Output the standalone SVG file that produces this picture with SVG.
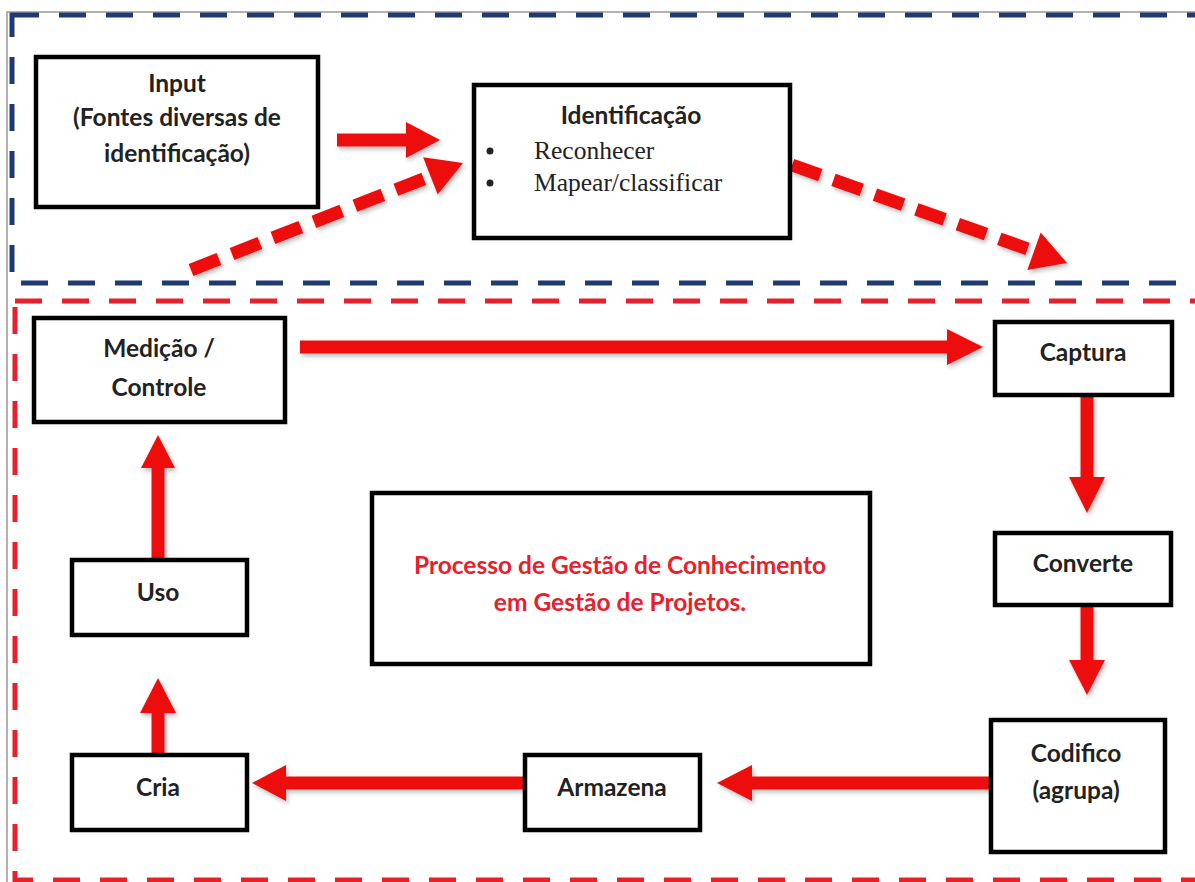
<svg xmlns="http://www.w3.org/2000/svg" width="1195" height="882" viewBox="0 0 1195 882">
<style>
.box{fill:#fff;stroke:#000;stroke-width:4.5}
.lbl{font-family:Lato,"Open Sans","Liberation Sans",sans-serif;font-weight:bold;font-size:24.5px;fill:#222;text-anchor:middle}
.ser{font-family:"Liberation Serif",serif;font-size:25.5px;fill:#222}
.shaft{stroke:#ee1111;stroke-width:13;fill:none}
.dash{stroke:#ee1111;stroke-width:13;fill:none;stroke-dasharray:30 14}
.head{fill:#ee1111}
</style>
<defs>
<filter id="sh" x="-20%" y="-20%" width="140%" height="140%">
<feDropShadow dx="2" dy="3" stdDeviation="2" flood-color="#000" flood-opacity="0.25"/>
</filter>
</defs>
<rect width="1195" height="882" fill="#fff"/>
<path d="M7 882 V12 H1195" fill="none" stroke="#999" stroke-width="1.5"/>
<g id="frames">
<rect x="12" y="15" width="1200" height="268" fill="none" stroke="#1f3a6e" stroke-width="5" stroke-dasharray="27 20"/>
<rect x="15" y="301" width="1200" height="579" fill="none" stroke="#e8202a" stroke-width="5" stroke-dasharray="27 20"/>
</g>
<g id="connectors" filter="url(#sh)">
<line class="shaft" x1="337" y1="140" x2="408" y2="140"/>
<polygon class="head" points="406,122 440,140 406,158"/>
<line class="dash" x1="191" y1="270" x2="431" y2="176"/>
<polygon class="head" points="463,163 437.7,194.4 423.1,157.2"/>
<line class="dash" x1="792" y1="165" x2="1035" y2="251.5"/>
<polygon class="head" points="1067,263 1027.3,270 1040.7,232.4"/>
<line class="shaft" x1="300" y1="347" x2="949" y2="347"/>
<polygon class="head" points="947,329 983,347 947,365"/>
<line class="shaft" x1="1087" y1="395" x2="1087" y2="479"/>
<polygon class="head" points="1069,477 1087,513 1105,477"/>
<line class="shaft" x1="1087" y1="605" x2="1087" y2="662"/>
<polygon class="head" points="1069,660 1087,695 1105,660"/>
<line class="shaft" x1="990" y1="783" x2="750" y2="783"/>
<polygon class="head" points="752,765 717,783 752,801"/>
<line class="shaft" x1="525" y1="783" x2="284" y2="783"/>
<polygon class="head" points="286,765 252,783 286,801"/>
<line class="shaft" x1="158" y1="755" x2="158" y2="711"/>
<polygon class="head" points="140,713 158,678 176,713"/>
<line class="shaft" x1="158" y1="560" x2="158" y2="466"/>
<polygon class="head" points="141,468 158,435 175,468"/>
</g>
<g id="input">
<rect class="box" x="36" y="57" width="282" height="150"/>
<text class="lbl" x="177" y="92">Input</text>
<text class="lbl" x="177" y="126">(Fontes diversas de</text>
<text class="lbl" x="177" y="162">identificação)</text>
</g>
<g id="identificacao">
<rect class="box" x="474" y="85" width="316" height="153"/>
<text class="lbl" x="631" y="124">Identificação</text>
<circle cx="490" cy="151" r="3.5" fill="#222"/>
<circle cx="490" cy="183" r="3.5" fill="#222"/>
<text class="ser" x="534" y="159">Reconhecer</text>
<text class="ser" x="534" y="191">Mapear/classificar</text>
</g>
<g id="medicao">
<rect class="box" x="34" y="318" width="251" height="104"/>
<text class="lbl" x="159" y="357">Medição /</text>
<text class="lbl" x="159" y="396">Controle</text>
</g>
<g id="captura">
<rect class="box" x="995" y="322" width="177" height="73"/>
<text class="lbl" x="1083" y="361">Captura</text>
</g>
<g id="converte">
<rect class="box" x="995" y="533" width="176" height="72"/>
<text class="lbl" x="1083" y="572">Converte</text>
</g>
<g id="codifico">
<rect class="box" x="991" y="720" width="174" height="132"/>
<text class="lbl" x="1076" y="762">Codifico</text>
<text class="lbl" x="1076" y="799">(agrupa)</text>
</g>
<g id="armazena">
<rect class="box" x="525" y="755" width="175" height="75"/>
<text class="lbl" x="612" y="796">Armazena</text>
</g>
<g id="cria">
<rect class="box" x="72" y="755" width="175" height="75"/>
<text class="lbl" x="158" y="796">Cria</text>
</g>
<g id="uso">
<rect class="box" x="72" y="560" width="175" height="75"/>
<text class="lbl" x="158" y="601">Uso</text>
</g>
<g id="processo">
<rect class="box" x="372" y="493" width="498" height="171"/>
<text class="lbl" x="620" y="574" style="fill:#e8202a;font-size:24.5px">Processo de Gestão de Conhecimento</text>
<text class="lbl" x="620" y="611" style="fill:#e8202a;font-size:24.5px">em Gestão de Projetos.</text>
</g>
</svg>
